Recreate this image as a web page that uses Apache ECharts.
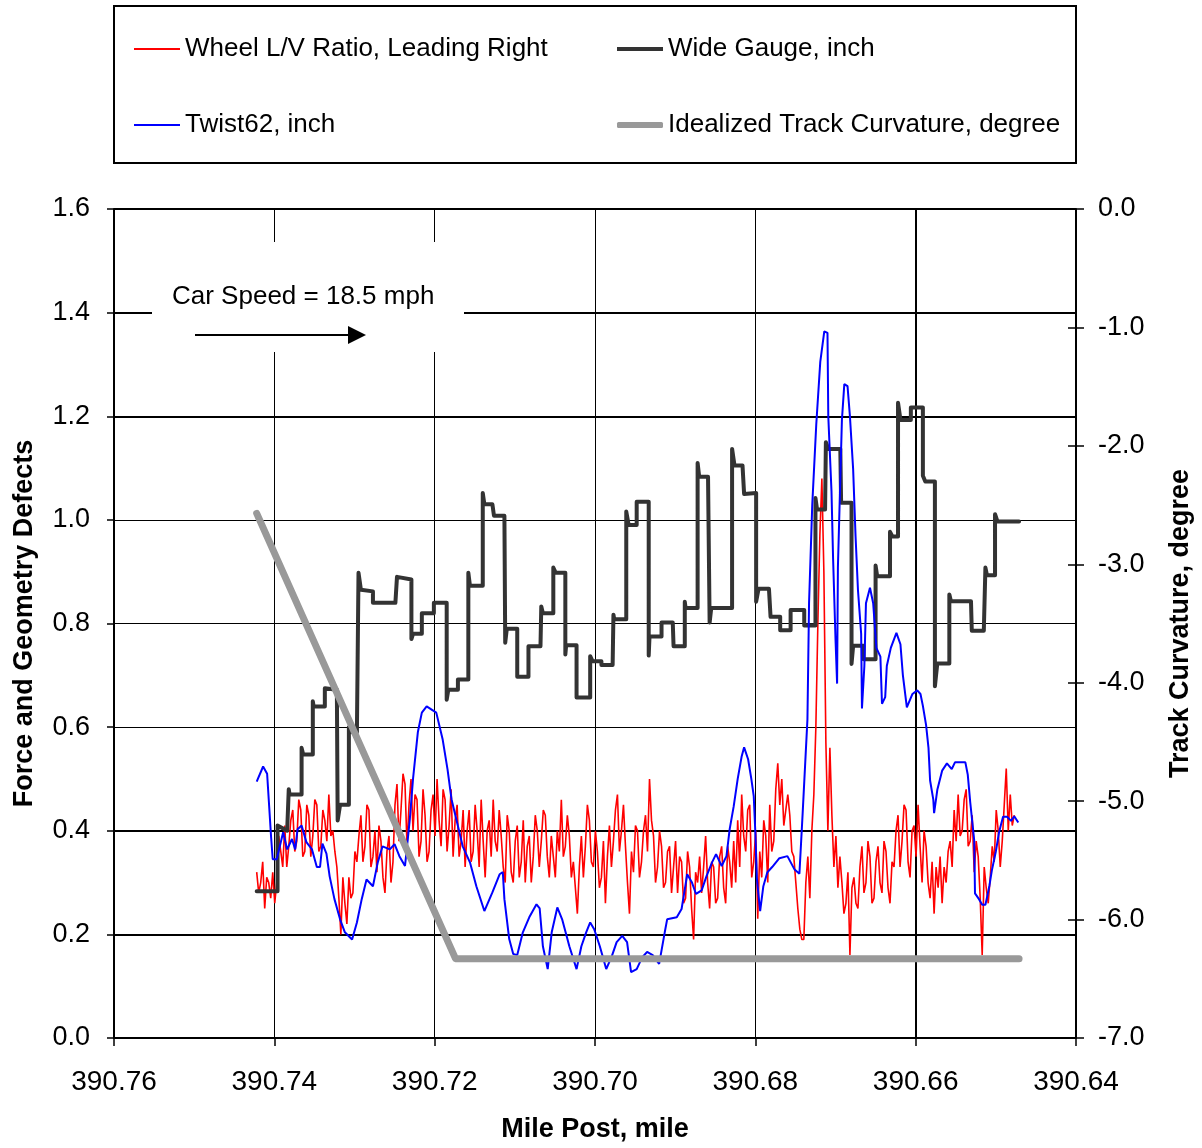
<!DOCTYPE html>
<html>
<head>
<meta charset="utf-8">
<script src="https://cdn.jsdelivr.net/npm/echarts@6/dist/echarts.min.js"></script>
<style>
  html, body { margin: 0; padding: 0; background: #ffffff; }
  #chart { width: 1202px; height: 1148px; }
</style>
</head>
<body>
<div id="chart"></div>
<script>
// ---- Data -----------------------------------------------------------------
// Wheel L/V ratio (leading right wheel), sampled every 0.00025 mile from lvStartMile
const lvStartMile = 390.7422;
const lvStepMile = 0.00025;
const lvRatio = [
  0.32, 0.28, 0.30, 0.34, 0.25, 0.31, 0.30, 0.27, 0.32, 0.26, 0.30, 0.39, 0.36, 0.33, 0.41, 0.33, 0.37, 0.42, 0.44, 0.36,
  0.38, 0.46, 0.44, 0.35, 0.36, 0.45, 0.43, 0.35, 0.39, 0.46, 0.45, 0.36, 0.37, 0.44, 0.42, 0.38, 0.47, 0.39, 0.40, 0.36,
  0.33, 0.27, 0.20, 0.31, 0.26, 0.22, 0.31, 0.27, 0.28, 0.36, 0.34, 0.39, 0.43, 0.34, 0.37, 0.45, 0.44, 0.33, 0.35, 0.40,
  0.32, 0.41, 0.38, 0.31, 0.28, 0.36, 0.39, 0.30, 0.34, 0.45, 0.49, 0.38, 0.44, 0.51, 0.49, 0.37, 0.45, 0.50, 0.40, 0.47,
  0.46, 0.35, 0.38, 0.48, 0.43, 0.34, 0.36, 0.44, 0.47, 0.39, 0.50, 0.42, 0.37, 0.48, 0.46, 0.36, 0.41, 0.48, 0.35, 0.42,
  0.45, 0.35, 0.38, 0.44, 0.33, 0.40, 0.44, 0.34, 0.36, 0.45, 0.40, 0.33, 0.46, 0.38, 0.31, 0.40, 0.42, 0.35, 0.46, 0.38,
  0.36, 0.44, 0.39, 0.33, 0.30, 0.43, 0.40, 0.32, 0.30, 0.38, 0.41, 0.31, 0.34, 0.42, 0.30, 0.37, 0.39, 0.30, 0.35, 0.43,
  0.40, 0.33, 0.38, 0.44, 0.43, 0.35, 0.31, 0.39, 0.35, 0.31, 0.40, 0.36, 0.46, 0.35, 0.37, 0.43, 0.39, 0.31, 0.34, 0.29,
  0.24, 0.33, 0.39, 0.31, 0.37, 0.45, 0.42, 0.34, 0.33, 0.40, 0.36, 0.29, 0.31, 0.38, 0.26, 0.35, 0.41, 0.33, 0.38, 0.44,
  0.47, 0.36, 0.40, 0.45, 0.37, 0.30, 0.24, 0.36, 0.32, 0.41, 0.40, 0.31, 0.34, 0.40, 0.43, 0.36, 0.50, 0.42, 0.39, 0.30,
  0.33, 0.40, 0.37, 0.29, 0.30, 0.36, 0.37, 0.28, 0.33, 0.38, 0.28, 0.35, 0.34, 0.26, 0.27, 0.36, 0.33, 0.25, 0.19, 0.32,
  0.30, 0.35, 0.28, 0.33, 0.39, 0.30, 0.25, 0.34, 0.33, 0.26, 0.27, 0.35, 0.37, 0.29, 0.26, 0.37, 0.34, 0.29, 0.38, 0.30,
  0.42, 0.33, 0.47, 0.39, 0.36, 0.44, 0.45, 0.31, 0.34, 0.40, 0.23, 0.36, 0.31, 0.42, 0.39, 0.30, 0.45, 0.36, 0.38, 0.48,
  0.53, 0.45, 0.50, 0.41, 0.44, 0.47, 0.43, 0.36, 0.35, 0.30, 0.25, 0.21, 0.19, 0.19, 0.30, 0.35, 0.27, 0.40, 0.47, 0.60,
  0.80, 0.97, 1.08, 0.90, 0.57, 0.40, 0.56, 0.43, 0.33, 0.39, 0.29, 0.35, 0.30, 0.24, 0.26, 0.32, 0.16, 0.29, 0.31, 0.26,
  0.25, 0.33, 0.37, 0.28, 0.30, 0.38, 0.35, 0.26, 0.27, 0.34, 0.37, 0.30, 0.28, 0.38, 0.36, 0.29, 0.26, 0.34, 0.33, 0.40,
  0.43, 0.33, 0.38, 0.45, 0.44, 0.34, 0.31, 0.40, 0.41, 0.35, 0.45, 0.37, 0.30, 0.40, 0.37, 0.30, 0.27, 0.34, 0.24, 0.33,
  0.29, 0.35, 0.26, 0.33, 0.30, 0.36, 0.38, 0.33, 0.44, 0.38, 0.47, 0.39, 0.40, 0.46, 0.48, 0.37, 0.38, 0.43, 0.32, 0.38,
  0.35, 0.27, 0.16, 0.33, 0.29, 0.26, 0.31, 0.37, 0.34, 0.44, 0.40, 0.33, 0.38, 0.45, 0.52, 0.40, 0.47, 0.41, 0.43
];

// Wide gauge, inch: [mile post, value] (step profile)
const wideGauge = [
  [390.7422,0.283],[390.7396,0.283],[390.7396,0.41],[390.7384,0.40],[390.7382,0.48],[390.7381,0.47],
  [390.7366,0.47],[390.7366,0.56],[390.7364,0.547],[390.7352,0.547],[390.7352,0.65],[390.7351,0.64],
  [390.7337,0.64],[390.7337,0.675],[390.7322,0.672],[390.7321,0.42],[390.7318,0.45],[390.7307,0.45],
  [390.7307,0.60],[390.7303,0.59],[390.7297,0.59],[390.7295,0.898],[390.7292,0.865],[390.7277,0.862],
  [390.7277,0.84],[390.7249,0.84],[390.7247,0.89],[390.7229,0.885],[390.7229,0.77],[390.7227,0.78],
  [390.7216,0.78],[390.7216,0.82],[390.7201,0.82],[390.7201,0.84],[390.7185,0.84],[390.7185,0.653],
  [390.7183,0.672],[390.7171,0.672],[390.7171,0.692],[390.7158,0.692],[390.7158,0.898],[390.7156,0.873],
  [390.7140,0.873],[390.7140,1.052],[390.7138,1.03],[390.7128,1.03],[390.7126,1.008],[390.7113,1.008],
  [390.7112,0.763],[390.7110,0.79],[390.7097,0.79],[390.7097,0.697],[390.7083,0.697],[390.7083,0.756],
  [390.7068,0.756],[390.7067,0.833],[390.7065,0.82],[390.7052,0.82],[390.7052,0.908],[390.7049,0.898],
  [390.7037,0.898],[390.7037,0.74],[390.7036,0.758],[390.7023,0.758],[390.7023,0.657],[390.7006,0.657],
  [390.7006,0.737],[390.7003,0.727],[390.6992,0.727],[390.6992,0.72],[390.6978,0.72],[390.6977,0.817],
  [390.6976,0.808],[390.6961,0.808],[390.6961,1.016],[390.6958,0.99],[390.6948,0.99],[390.6948,1.035],
  [390.6933,1.035],[390.6933,0.738],[390.6932,0.775],[390.6917,0.775],[390.6917,0.802],[390.6903,0.802],
  [390.6902,0.756],[390.6888,0.756],[390.6888,0.842],[390.6887,0.83],[390.6872,0.83],[390.6872,1.11],
  [390.6870,1.083],[390.6859,1.083],[390.6857,0.802],[390.6855,0.83],[390.6829,0.83],[390.6829,1.137],
  [390.6826,1.105],[390.6816,1.105],[390.6814,1.05],[390.6799,1.052],[390.6799,0.842],[390.6796,0.867],
  [390.6783,0.867],[390.6781,0.813],[390.6769,0.813],[390.6769,0.787],[390.6756,0.787],[390.6756,0.826],
  [390.6739,0.826],[390.6739,0.796],[390.6725,0.796],[390.6725,1.042],[390.6723,1.02],[390.6713,1.02],
  [390.6712,1.15],[390.6709,1.137],[390.6694,1.137],[390.6693,1.033],[390.6680,1.033],[390.6680,0.722],
  [390.6678,0.757],[390.6665,0.757],[390.6665,0.731],[390.6650,0.731],[390.6650,0.912],[390.6648,0.891],
  [390.6632,0.891],[390.6632,0.977],[390.6629,0.968],[390.6622,0.968],[390.6622,1.226],[390.6619,1.193],
  [390.6606,1.193],[390.6606,1.217],[390.6591,1.217],[390.6591,1.085],[390.6588,1.074],[390.6576,1.074],
  [390.6576,0.679],[390.6573,0.723],[390.6558,0.723],[390.6558,0.856],[390.6556,0.843],[390.6531,0.843],
  [390.6530,0.786],[390.6515,0.786],[390.6513,0.908],[390.6511,0.893],[390.6501,0.893],[390.6501,1.011],
  [390.6498,0.997],[390.6471,0.997]
];

// Twist over 62 ft chord, inch: [mile post, value]
const twist62 = [
  [390.7422,0.495],[390.7414,0.524],[390.7409,0.51],[390.7404,0.387],[390.7402,0.345],[390.7397,0.345],
  [390.7389,0.397],[390.7384,0.364],[390.7378,0.384],[390.7374,0.364],[390.7371,0.403],[390.7366,0.41],
  [390.7360,0.378],[390.7353,0.364],[390.7347,0.33],[390.7343,0.33],[390.7340,0.375],[390.7335,0.356],
  [390.7331,0.312],[390.7325,0.268],[390.7318,0.229],[390.7312,0.204],[390.7303,0.19],[390.7297,0.223],
  [390.7291,0.268],[390.7285,0.306],[390.7277,0.293],[390.7271,0.339],[390.7265,0.37],[390.7256,0.364],
  [390.7250,0.374],[390.7244,0.351],[390.7237,0.332],[390.7231,0.422],[390.7227,0.5],[390.7221,0.59],
  [390.7216,0.628],[390.7210,0.64],[390.7198,0.628],[390.7190,0.576],[390.7184,0.519],[390.7179,0.461],
  [390.7173,0.422],[390.7165,0.37],[390.7156,0.339],[390.7148,0.293],[390.7138,0.245],[390.7128,0.281],
  [390.7119,0.316],[390.7115,0.32],[390.7113,0.268],[390.7107,0.191],[390.7102,0.162],[390.7097,0.16],
  [390.7090,0.204],[390.7082,0.233],[390.7073,0.258],[390.7069,0.25],[390.7065,0.177],[390.7059,0.133],
  [390.7054,0.204],[390.7047,0.252],[390.7041,0.229],[390.7032,0.177],[390.7023,0.133],[390.7017,0.177],
  [390.7011,0.204],[390.7006,0.223],[390.7001,0.21],[390.6994,0.177],[390.6986,0.133],[390.6979,0.158],
  [390.6973,0.185],[390.6966,0.197],[390.6960,0.185],[390.6955,0.127],[390.6948,0.133],[390.6941,0.156],
  [390.6935,0.166],[390.6928,0.16],[390.6920,0.143],[390.6913,0.204],[390.6910,0.229],[390.6898,0.233],
  [390.6892,0.249],[390.6888,0.287],[390.6885,0.316],[390.6879,0.3],[390.6874,0.278],[390.6867,0.285],
  [390.6861,0.312],[390.6854,0.339],[390.6849,0.355],[390.6842,0.332],[390.6836,0.351],[390.6832,0.403],
  [390.6827,0.447],[390.6822,0.5],[390.6817,0.544],[390.6814,0.561],[390.6809,0.538],[390.6805,0.5],
  [390.6802,0.467],[390.6800,0.397],[390.6798,0.306],[390.6794,0.245],[390.6790,0.293],[390.6785,0.32],
  [390.6779,0.33],[390.6770,0.347],[390.6760,0.351],[390.6751,0.325],[390.6745,0.317],[390.6741,0.433],
  [390.6735,0.615],[390.6733,0.839],[390.6729,1.029],[390.6724,1.184],[390.6719,1.305],[390.6714,1.364],
  [390.6710,1.361],[390.6709,1.2],[390.6705,1.055],[390.6703,0.925],[390.6700,0.77],[390.6698,0.684],
  [390.6697,0.908],[390.6692,1.193],[390.6689,1.262],[390.6685,1.258],[390.6682,1.2],[390.6678,1.098],
  [390.6675,0.969],[390.6672,0.865],[390.6668,0.78],[390.6667,0.636],[390.6664,0.718],[390.6662,0.839],
  [390.6657,0.869],[390.6653,0.839],[390.6649,0.753],[390.6644,0.736],[390.6642,0.645],[390.6638,0.658],
  [390.6636,0.718],[390.6631,0.753],[390.6624,0.782],[390.6619,0.76],[390.6616,0.701],[390.6611,0.638],
  [390.6604,0.664],[390.6598,0.671],[390.6594,0.664],[390.6591,0.641],[390.6587,0.604],[390.6584,0.56],
  [390.6582,0.497],[390.6578,0.46],[390.6577,0.434],[390.6573,0.479],[390.6567,0.516],[390.6561,0.53],
  [390.6555,0.519],[390.6551,0.532],[390.6538,0.532],[390.6535,0.508],[390.6532,0.456],[390.6527,0.382],
  [390.6526,0.279],[390.6521,0.268],[390.6517,0.257],[390.6513,0.257],[390.6508,0.294],[390.6505,0.323],
  [390.6500,0.36],[390.6496,0.397],[390.6491,0.427],[390.6486,0.427],[390.6481,0.419],[390.6477,0.428],
  [390.6472,0.416]
];

// Idealized track curvature, degree (right axis): [mile post, value]
const trackCurvature = [
  [390.7422, -2.57],
  [390.7174, -6.33],
  [390.6471, -6.33]
];

// Gridlines printed heavier than the rest
const heavyForceLines = [1.6, 1.4, 1.2, 0.4, 0.2];
const heavyMileLines = [390.66];

// ---- Chart ----------------------------------------------------------------
const FONT = '"Liberation Sans", Arial, Helvetica, sans-serif';
const BLACK = '#000000';

const SERIES_LV = 'Wheel L/V Ratio, Leading Right';
const SERIES_GAUGE = 'Wide Gauge, inch';
const SERIES_TWIST = 'Twist62, inch';
const SERIES_CURV = 'Idealized Track Curvature, degree';

const lvData = lvRatio.map((v, i) => [+(lvStartMile - i * lvStepMile).toFixed(5), v]);

const chart = echarts.init(document.getElementById('chart'), null, { renderer: 'canvas' });

const legendText = { fontFamily: FONT, fontSize: 26, color: BLACK, lineHeight: 26 };

// one legend block per entry so that each key line gets its own thickness
function legendEntry(name, left, top, thickness, icon) {
  return {
    left: left, top: top, padding: 0, orient: 'vertical',
    itemWidth: 46, itemHeight: thickness, icon: icon,
    selectedMode: false,
    itemStyle: { borderWidth: 0 },
    textStyle: legendText,
    data: [name]
  };
}

chart.setOption({
  animation: false,
  backgroundColor: '#ffffff',
  textStyle: { fontFamily: FONT },
  grid: { left: 114, right: 125, top: 209, bottom: 109, containLabel: false },
  legend: [
    legendEntry(SERIES_LV, 134, 36, 2, 'rect'),
    legendEntry(SERIES_TWIST, 134, 112, 2, 'rect'),
    legendEntry(SERIES_GAUGE, 617, 36, 4, 'rect'),
    legendEntry(SERIES_CURV, 617, 112, 6, 'roundRect')
  ],
  xAxis: {
    type: 'value',
    min: 390.64, max: 390.76, interval: 0.02,
    inverse: true,
    name: 'Mile Post, mile',
    nameLocation: 'middle',
    nameGap: 78,
    nameTextStyle: { fontFamily: FONT, fontSize: 27, fontWeight: 'bold', color: BLACK },
    axisLine: { show: true, onZero: false, lineStyle: { color: BLACK, width: 2 } },
    axisTick: { show: true, length: 8, lineStyle: { color: BLACK, width: 1.5 } },
    axisLabel: { margin: 30, fontFamily: FONT, fontSize: 28, color: BLACK,
                 formatter: v => v.toFixed(2) },
    splitLine: { show: true, lineStyle: { color: BLACK, width: 1 } }
  },
  yAxis: [
    {
      type: 'value', position: 'left',
      min: 0, max: 1.6, interval: 0.2,
      name: 'Force and Geometry Defects',
      nameLocation: 'middle', nameRotate: 90, nameGap: 76,
      nameTextStyle: { fontFamily: FONT, fontSize: 27, fontWeight: 'bold', color: BLACK },
      axisLine: { show: true, lineStyle: { color: BLACK, width: 2 } },
      axisTick: { show: true, length: 7, lineStyle: { color: BLACK, width: 1.5 } },
      axisLabel: { margin: 24, fontFamily: FONT, fontSize: 27, color: BLACK,
                   formatter: v => v.toFixed(1) },
      splitLine: { show: true, lineStyle: { color: BLACK, width: 1 } }
    },
    {
      type: 'value', position: 'right',
      min: -7, max: 0, interval: 1,
      name: 'Track Curvature, degree',
      nameLocation: 'middle', nameRotate: 90, nameGap: 91,
      nameTextStyle: { fontFamily: FONT, fontSize: 27, fontWeight: 'bold', color: BLACK },
      axisLine: { show: true, lineStyle: { color: BLACK, width: 2 } },
      axisTick: { show: true, length: 8, lineStyle: { color: BLACK, width: 1.5 } },
      axisLabel: { margin: 22, fontFamily: FONT, fontSize: 27, color: BLACK,
                   formatter: v => v.toFixed(1) },
      splitLine: { show: false }
    },
    {
      // inner half of the crossing ticks on the curvature axis
      type: 'value', position: 'right',
      min: -7, max: 0, interval: 1,
      axisLine: { show: false },
      axisTick: { show: true, inside: true, length: 8, lineStyle: { color: BLACK, width: 1.5 } },
      axisLabel: { show: false },
      splitLine: { show: false }
    }
  ],
  series: [
    {
      // heavier gridlines, kept underneath the data
      name: 'gridlines',
      type: 'line', yAxisIndex: 0,
      data: [],
      silent: true,
      markLine: {
        silent: true, animation: false, z: 1,
        symbol: 'none',
        label: { show: false },
        lineStyle: { color: BLACK, width: 2, type: 'solid' },
        emphasis: { disabled: true },
        data: heavyForceLines.map(v => ({ yAxis: v }))
          .concat(heavyMileLines.map(v => ({ xAxis: v })))
      }
    },
    {
      name: SERIES_LV,
      type: 'line', yAxisIndex: 0,
      data: lvData,
      symbol: 'none',
      lineStyle: { color: '#ff0000', width: 1.6 },
      itemStyle: { color: '#ff0000' }
    },
    {
      name: SERIES_GAUGE,
      type: 'line', yAxisIndex: 0,
      data: wideGauge,
      symbol: 'none',
      lineStyle: { color: '#333333', width: 4, join: 'round', cap: 'round' },
      itemStyle: { color: '#333333' }
    },
    {
      name: SERIES_TWIST,
      type: 'line', yAxisIndex: 0,
      data: twist62,
      symbol: 'none',
      lineStyle: { color: '#0000ff', width: 2 },
      itemStyle: { color: '#0000ff' }
    },
    {
      name: SERIES_CURV,
      type: 'line', yAxisIndex: 1,
      data: trackCurvature,
      symbol: 'none',
      lineStyle: { color: '#999999', width: 7, cap: 'round', join: 'round' },
      itemStyle: { color: '#999999' }
    }
  ],
  graphic: [
    // legend frame
    { type: 'rect', z: 100,
      shape: { x: 114, y: 6, width: 962, height: 157 },
      style: { fill: 'none', stroke: BLACK, lineWidth: 2 } },
    // speed note with direction of travel
    { type: 'rect', z: 100,
      shape: { x: 152, y: 242, width: 312, height: 110 },
      style: { fill: '#ffffff' } },
    { type: 'text', z: 101, x: 172, y: 297,
      style: { text: 'Car Speed = 18.5 mph', fontFamily: FONT, fontSize: 26,
               fill: BLACK, verticalAlign: 'middle' } },
    { type: 'line', z: 101,
      shape: { x1: 195, y1: 335, x2: 350, y2: 335 },
      style: { stroke: BLACK, lineWidth: 2 } },
    { type: 'polygon', z: 101,
      shape: { points: [[348, 326], [366, 335], [348, 344]] },
      style: { fill: BLACK } }
  ]
});
</script>
</body>
</html>
